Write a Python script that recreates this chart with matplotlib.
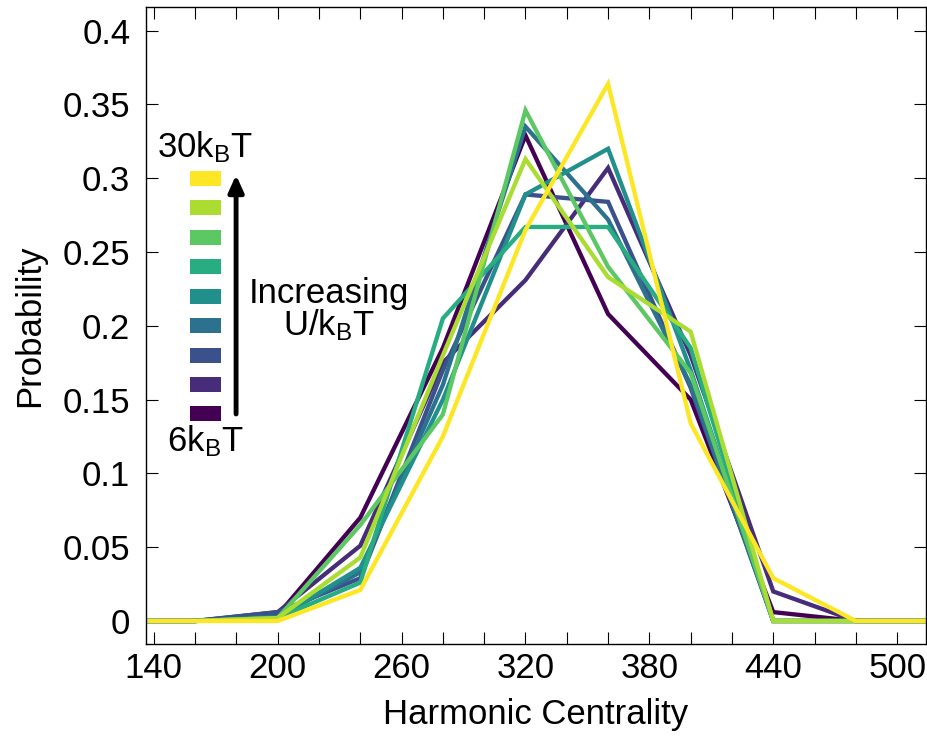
import matplotlib
matplotlib.use("Agg")
import matplotlib.pyplot as plt
from matplotlib.patches import Rectangle
from matplotlib.ticker import MultipleLocator, FuncFormatter

plt.rcParams["font.family"] = ["Liberation Sans", "DejaVu Sans"]
plt.rcParams["mathtext.fontset"] = "custom"
plt.rcParams["mathtext.rm"] = "Liberation Sans"
plt.rcParams["mathtext.it"] = "Liberation Sans:italic"

# harmonic centrality bins
centrality = [120, 160, 200, 240, 280, 320, 360, 400, 440, 480, 520]

# probability per interaction strength (6 .. 30 kBT)
p_6 = [0, 0, 0.004, 0.070, 0.185, 0.329, 0.208, 0.150, 0.006, 0, 0]
p_9 = [0, 0, 0.006, 0.051, 0.175, 0.231, 0.307, 0.180, 0.020, 0, 0]
p_12 = [0, 0, 0.006, 0.029, 0.170, 0.289, 0.284, 0.158, 0, 0, 0]
p_15 = [0, 0, 0.003, 0.033, 0.160, 0.335, 0.272, 0.160, 0, 0, 0]
p_18 = [0, 0, 0.002, 0.036, 0.150, 0.289, 0.320, 0.170, 0, 0, 0]
p_21 = [0, 0, 0.002, 0.026, 0.205, 0.267, 0.267, 0.185, 0, 0, 0]
p_24 = [0, 0, 0.002, 0.065, 0.140, 0.346, 0.240, 0.168, 0, 0, 0]
p_27 = [0, 0, 0.002, 0.043, 0.180, 0.313, 0.233, 0.196, 0, 0, 0]
p_30 = [0, 0, 0, 0.021, 0.125, 0.265, 0.364, 0.134, 0.029, 0, 0]

series = [p_6, p_9, p_12, p_15, p_18, p_21, p_24, p_27, p_30]
colors = ["#440154", "#472c7a", "#3b518b", "#2c718e", "#21908d",
          "#27ad81", "#5cc863", "#aadc32", "#fde725"]

FS = 25

fig = plt.figure(figsize=(9.27, 7.36), dpi=100)
ax = fig.add_axes([0.157, 0.125, 0.842, 0.866])

for ys, c in zip(series, colors):
    ax.plot(centrality, ys, color=c, lw=3.1, solid_joinstyle="miter")

ax.set_xlim(136, 514)
ax.set_ylim(-0.0156, 0.4163)

ax.xaxis.set_minor_locator(MultipleLocator(20))
ax.set_xticks(range(140, 501, 60))
ax.yaxis.set_major_locator(MultipleLocator(0.05))
ax.yaxis.set_major_formatter(FuncFormatter(lambda v, _: f"{v:g}" if abs(v) > 1e-9 else "0"))

ax.tick_params(which="both", direction="in", top=True, right=True,
               length=8.6, width=0.8, labelsize=FS)
ax.tick_params(axis="x", which="both", pad=6)
ax.tick_params(axis="y", pad=11)
for s in ax.spines.values():
    s.set_linewidth(1.0)

ax.set_xlabel("Harmonic Centrality", fontsize=FS, labelpad=9)
ax.set_ylabel("Probability", fontsize=FS, labelpad=12)

# colour key for the interaction strengths
y0 = (644 - 421.5) / 637.3
step = 29.45 / 637.3
for i, c in enumerate(colors):
    ax.add_patch(Rectangle((0.0568, y0 + i * step), 0.0397, 0.0235,
                           transform=ax.transAxes, color=c, lw=0, zorder=3))

ax.text(0.076, (644 - 147) / 637.3, r"30k$_\mathrm{B}$T", transform=ax.transAxes,
        ha="center", va="center", fontsize=FS)
ax.text(0.076, (644 - 441) / 637.3, r"6k$_\mathrm{B}$T", transform=ax.transAxes,
        ha="center", va="center", fontsize=FS)
ax.annotate("", xy=(0.116, (644 - 175) / 637.3), xytext=(0.116, (644 - 414) / 637.3),
            xycoords="axes fraction",
            arrowprops=dict(arrowstyle="-|>,head_width=0.45,head_length=1.0",
                            color="black", lw=3.5, shrinkA=0, shrinkB=0))
ax.text((329 - 145.7) / 780.3, (644 - 294) / 637.3, "Increasing", transform=ax.transAxes,
        ha="center", va="center", fontsize=FS)
ax.text((329 - 145.7) / 780.3, (644 - 325) / 637.3, r"U/k$_\mathrm{B}$T", transform=ax.transAxes,
        ha="center", va="center", fontsize=FS)

fig.savefig("out.png", dpi=100)
